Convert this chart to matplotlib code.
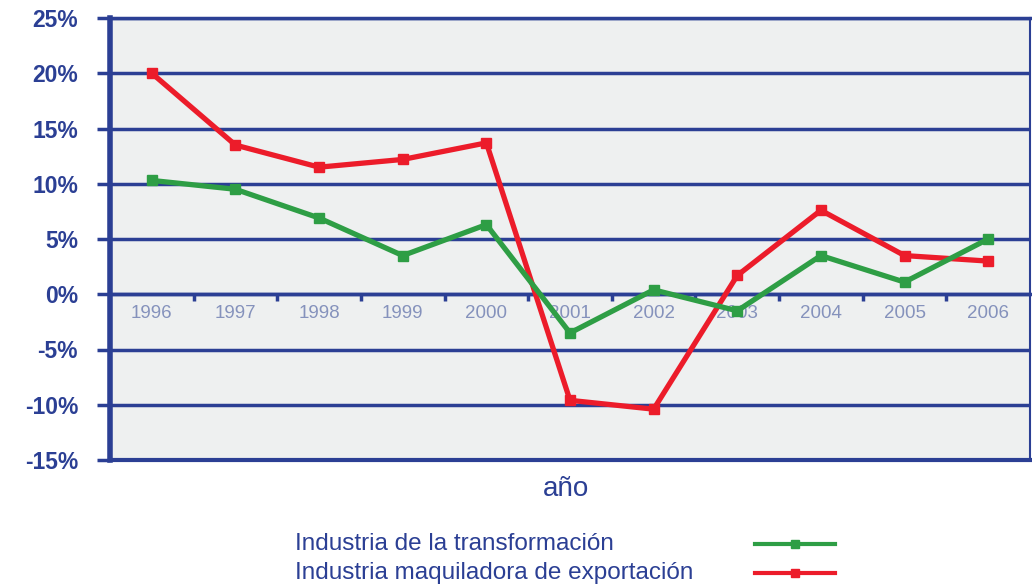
import matplotlib.pyplot as plt
import numpy as np

years = ["1996", "1997", "1998", "1999", "2000", "2001", "2002", "2003", "2004", "2005", "2006"]
transformacion = [10.3, 9.5, 6.9, 3.5, 6.3, -3.5, 0.4, -1.5, 3.5, 1.1, 5.0]
maquiladora = [20.0, 13.5, 11.5, 12.2, 13.7, -9.6, -10.4, 1.7, 7.6, 3.5, 3.0]
y_ticks = [-15, -10, -5, 0, 5, 10, 15, 20, 25]

navy = "#2B3F94"
plt.rcParams["font.family"] = ["Liberation Sans", "DejaVu Sans"]

fig = plt.figure(figsize=(10.32, 5.86), dpi=100)
ax = fig.add_axes([110 / 1032, 1 - 460 / 586, 920 / 1032, 442 / 586])
ax.set_facecolor("#EEF0F0")

x = np.arange(len(years))
ax.plot(x, transformacion, color="#2E9E45", lw=3.8, marker="s", ms=7,
        label="Industria de la transformación", zorder=4)
ax.plot(x, maquiladora, color="#EC1C2A", lw=3.8, marker="s", ms=7,
        label="Industria maquiladora de exportación", zorder=3)

ax.set_xlim(-0.5, len(years) - 0.5)
ax.set_ylim(-15, 25)
ax.set_yticks(y_ticks)
ax.set_yticklabels([f"{v}%" for v in y_ticks], fontsize=16.5, fontweight="bold", color=navy)
ax.tick_params(axis="y", length=9.5, width=2.5, color=navy, pad=13.5)
ax.yaxis.grid(True, color=navy, lw=2.5)
ax.set_axisbelow(True)

# x axis runs along the zero line
ax.spines["bottom"].set_position(("data", 0))
ax.spines["bottom"].set_color(navy)
ax.spines["bottom"].set_linewidth(2.5)
ax.set_xticks(x)
ax.set_xticklabels(years, fontsize=13.5, color="#8592BC")
ax.tick_params(axis="x", which="major", length=0, pad=8)
ax.set_xticks(np.arange(0.5, len(years) - 1, 1), minor=True)
ax.tick_params(axis="x", which="minor", length=5, width=2.5, color=navy, direction="out")

ax.spines["left"].set_color(navy)
ax.spines["left"].set_linewidth(4)
ax.spines["top"].set_color(navy)
ax.spines["top"].set_linewidth(2.5)
ax.spines["right"].set_color(navy)
ax.spines["right"].set_linewidth(1.5)
ax.axhline(-15, color=navy, lw=3, clip_on=False)

fig.text(566 / 1032, 1 - 489 / 586, "año", fontsize=20, color=navy,
         ha="center", va="center")

# legend drawn as text plus line samples
handles = ax.get_lines()[:2]
for i, h in enumerate(handles):
    yy = 1 - (544 + 29 * i) / 586
    fig.text(295 / 1032, yy, h.get_label(), fontsize=17.5, color=navy, va="center")
    fig.add_artist(plt.Line2D([755 / 1032, 835 / 1032], [yy, yy], color=h.get_color(),
                              lw=3, transform=fig.transFigure))
    fig.add_artist(plt.Line2D([795 / 1032], [yy], color=h.get_color(), marker="s", ms=6,
                              transform=fig.transFigure))

fig.savefig("out.png", dpi=100)
